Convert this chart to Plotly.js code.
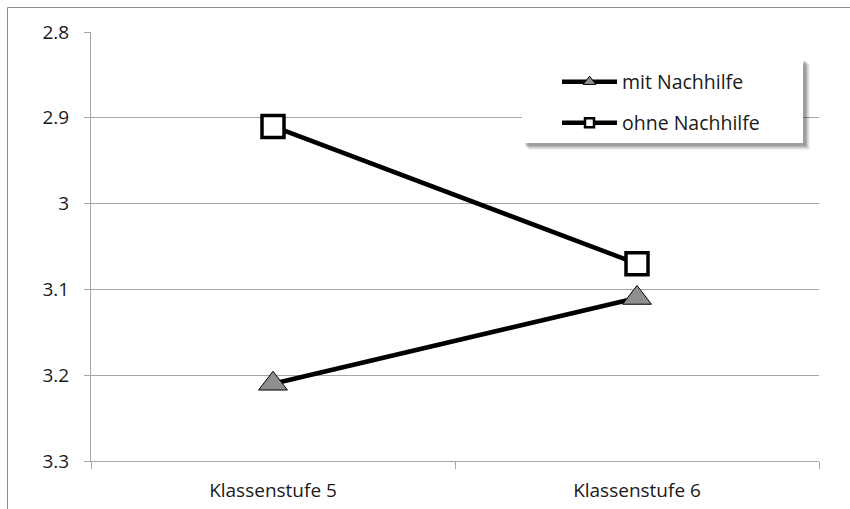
<!DOCTYPE html>
<html>
<head>
<meta charset="utf-8">
<script src="https://cdn.plot.ly/plotly-3.0.1.min.js"></script>
<style>html,body{margin:0;padding:0;background:#fff;}#chart{width:850px;height:509px;}</style>
</head>
<body>
<div id="chart"></div>
<script>
// ---- data ----
var categories = ["Klassenstufe 5", "Klassenstufe 6"];
var seriesNames = ["mit Nachhilfe", "ohne Nachhilfe"];
var mitNachhilfe = [3.21, 3.11];
var ohneNachhilfe = [2.91, 3.07];
var yTickValues = [2.8, 2.9, 3.0, 3.1, 3.2, 3.3];
var yTickLabels = ["2.8", "2.9", "3", "3.1", "3.2", "3.3"];

// ---- layout geometry (pixels) ----
var W = 850, H = 509;
var M = {l: 91, r: 31, t: 32, b: 48};
var PW = W - M.l - M.r, PH = H - M.t - M.b;
function px(x) { return (x - M.l) / PW; }
function py(y) { return (H - M.b - y) / PH; }

var FONT = "'Open Sans', 'Noto Sans', sans-serif";
var GRID = "#a6a6a6";
var TXT = "#1a1a1a";

var traces = [
  {
    x: categories, y: mitNachhilfe, name: seriesNames[0], type: "scatter", mode: "lines+markers",
    line: {color: "#000", width: 4.5},
    marker: {symbol: "triangle-up", size: 25, color: "#8f8f8f", line: {color: "#000", width: 1}},
    showlegend: false, cliponaxis: false
  },
  {
    x: categories, y: ohneNachhilfe, name: seriesNames[1], type: "scatter", mode: "lines+markers",
    line: {color: "#000", width: 4.5},
    marker: {symbol: "square", size: 22, color: "#fff", line: {color: "#000", width: 3.5}},
    showlegend: false, cliponaxis: false
  },
  // legend entries
  {
    x: [null], y: [null], name: seriesNames[0], type: "scatter", mode: "lines+markers",
    line: {color: "#000", width: 4.5},
    marker: {symbol: "triangle-up", size: 11, color: "#8f8f8f", line: {color: "#000", width: 1}},
    legend: "legend"
  },
  {
    x: [null], y: [null], name: seriesNames[1], type: "scatter", mode: "lines+markers",
    line: {color: "#000", width: 4.5},
    marker: {symbol: "square", size: 9, color: "#fff", line: {color: "#000", width: 2.5}},
    legend: "legend2"
  }
];

// legend box + shadow
var bx0 = 522, by0 = 58, bx1 = 803, by1 = 143;
var shapes = [];
var shadowSteps = [
  {d: 7, c: "rgba(0,0,0,0.05)"},
  {d: 6, c: "rgba(0,0,0,0.07)"},
  {d: 5, c: "rgba(0,0,0,0.09)"},
  {d: 4, c: "rgba(0,0,0,0.11)"},
  {d: 3, c: "rgba(0,0,0,0.12)"}
];
shadowSteps.forEach(function (s) {
  shapes.push({type: "rect", xref: "paper", yref: "paper", layer: "above",
    x0: px(bx0 + s.d), x1: px(bx1 + s.d), y0: py(by0 + s.d), y1: py(by1 + s.d),
    fillcolor: s.c, line: {width: 0}});
});
shapes.push({type: "rect", xref: "paper", yref: "paper", layer: "above",
  x0: px(bx0), x1: px(bx1), y0: py(by0), y1: py(by1),
  fillcolor: "#fff", line: {width: 0}});
// outer chart border
shapes.push({type: "rect", xref: "paper", yref: "paper", layer: "above",
  x0: px(7.5), x1: px(W + 20), y0: py(7.5), y1: py(H + 20),
  fillcolor: "rgba(0,0,0,0)", line: {color: "#8c8c8c", width: 1}});

var legendCommon = {
  xanchor: "left", yanchor: "middle", bgcolor: "rgba(0,0,0,0)", borderwidth: 0,
  font: {family: FONT, size: 19.5, color: TXT}, itemwidth: 55, itemclick: false, itemdoubleclick: false
};

var layout = {
  width: W, height: H,
  margin: M,
  paper_bgcolor: "#fff", plot_bgcolor: "#fff",
  font: {family: FONT, size: 19, color: TXT},
  xaxis: {
    type: "category", range: [-0.5, 1.5], showgrid: false, showline: true, linecolor: GRID, linewidth: 1,
    ticks: "outside", tickson: "boundaries", ticklen: 7, tickcolor: GRID, tickwidth: 1, ticklabelstandoff: 12,
    tickfont: {family: FONT, size: 19, color: TXT}, fixedrange: true, zeroline: false
  },
  yaxis: {
    range: [3.3, 2.8], tickmode: "array", tickvals: yTickValues, ticktext: yTickLabels,
    showgrid: true, gridcolor: GRID, gridwidth: 1, showline: true, linecolor: GRID, linewidth: 1,
    ticks: "outside", ticklen: 6, tickcolor: GRID, tickwidth: 1, ticklabelstandoff: 11,
    tickfont: {family: FONT, size: 19, color: TXT}, zeroline: false, fixedrange: true
  },
  shapes: shapes,
  legend: Object.assign({}, legendCommon, {x: px(557), y: py(82)}),
  legend2: Object.assign({}, legendCommon, {x: px(557), y: py(123)})
};

Plotly.newPlot("chart", traces, layout, {displayModeBar: false, staticPlot: true});
</script>
</body>
</html>
